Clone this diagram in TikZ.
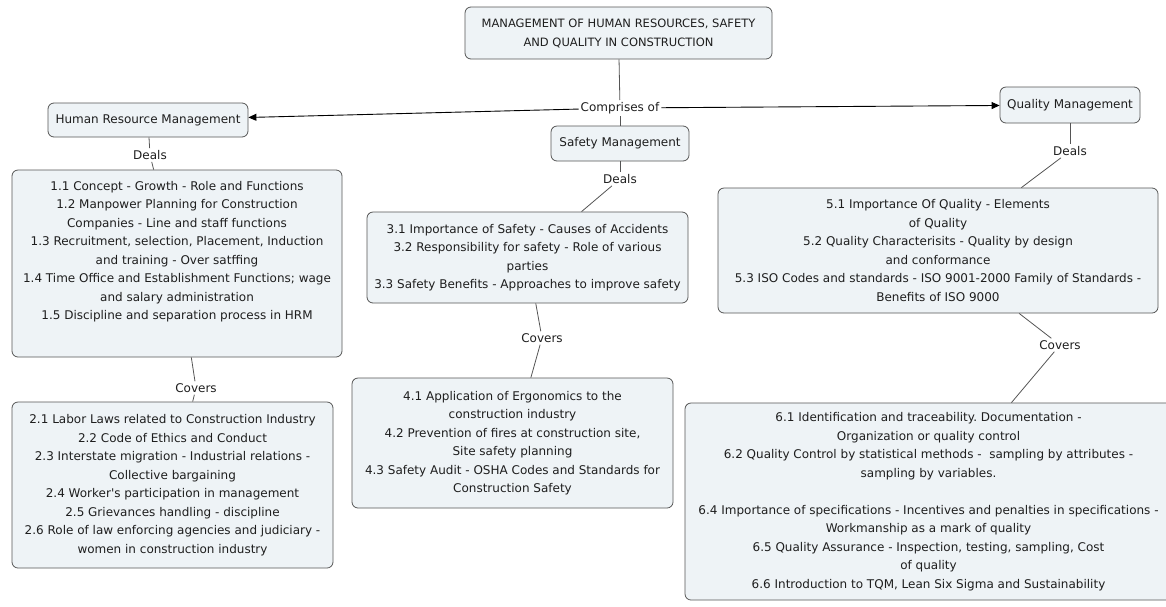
\documentclass[tikz,border=0pt]{standalone}
\usepackage{fontspec}
\setmainfont{DejaVu Sans}
\usetikzlibrary{arrows.meta}
\definecolor{boxfill}{RGB}{238,243,246}
\definecolor{boxline}{RGB}{85,85,85}
\definecolor{ink}{RGB}{30,30,30}
\tikzstyle{txt}=[font=\fontsize{12}{18.5}\selectfont\frenchspacing,text=ink,align=center]
\tikzstyle{box}=[txt,rectangle,rounded corners=6pt,draw=boxline,fill=boxfill,line width=0.8pt,inner sep=0pt]
\tikzstyle{lbl}=[txt,inner sep=2pt]
\tikzstyle{link}=[draw=boxline,line width=0.8pt]
\tikzstyle{arr}=[-{Triangle[length=8pt,width=7pt]},draw=black,line width=0.9pt]

\begin{document}
\begin{tikzpicture}[x=1pt,y=-1pt]
        \useasboundingbox (0,0) rectangle (1166,606);
        \node[box,minimum width=307pt,minimum height=52pt,font=\fontsize{11.5}{19}\selectfont] (root) at (618.5,33) {MANAGEMENT OF HUMAN RESOURCES, SAFETY\\AND QUALITY IN CONSTRUCTION};
        \node[lbl] (comp) at (620,108) {Comprises of};
        \node[box,minimum width=200pt,minimum height=34pt] (hrm) at (148,120) {Human Resource Management};
        \node[box,minimum width=138pt,minimum height=35pt] (sm) at (620,143.5) {Safety Management};
        \node[box,minimum width=140pt,minimum height=36pt] (qm) at (1070,105) {Quality Management};
        % human resources
        \node[lbl] (dealsH) at (150,155) {Deals};
        \node[box,minimum width=330pt,minimum height=187pt] (topics1) at (177,263.5) {1.1 Concept - Growth - Role and Functions\\1.2 Manpower Planning for Construction\\Companies - Line and staff functions\\1.3 Recruitment, selection, Placement, Induction\\and training - Over satffing\\1.4 Time Office and Establishment Functions; wage\\and salary administration\\1.5 Discipline and separation process in HRM\\[8pt]\mbox{}};
        \node[lbl] (coversH) at (196,388) {Covers};
        \node[box,minimum width=321pt,minimum height=166pt] (topics2) at (172.5,485) {2.1 Labor Laws related to Construction Industry\\2.2 Code of Ethics and Conduct\\2.3 Interstate migration - Industrial relations -\\Collective bargaining\\2.4 Worker\textquotesingle s participation in management\\2.5 Grievances handling - discipline\\2.6 Role of law enforcing agencies and judiciary -\\women in construction industry};
        % safety
        \node[lbl] (dealsS) at (620,179) {Deals};
        \node[box,minimum width=321pt,minimum height=91pt] (topics3) at (527.5,257.5) {3.1 Importance of Safety - Causes of Accidents\\3.2 Responsibility for safety - Role of various\\parties\\3.3 Safety Benefits - Approaches to improve safety};
        \node[lbl] (coversS) at (542,338) {Covers};
        \node[box,minimum width=321pt,minimum height=130pt] (topics4) at (512.5,443) {4.1 Application of Ergonomics to the\\construction industry\\4.2 Prevention of fires at construction site,\\Site safety planning\\4.3 Safety Audit - OSHA Codes and Standards for\\Construction Safety};
        % quality
        \node[lbl] (dealsQ) at (1070,151) {Deals};
        \node[box,minimum width=440pt,minimum height=125pt] (topics5) at (938,250.5) {5.1 Importance Of Quality - Elements\\of Quality\\5.2 Quality Characterisits - Quality by design\\and conformance\\5.3 ISO Codes and standards - ISO 9001-2000 Family of Standards -\\Benefits of ISO 9000};
        \node[lbl] (coversQ) at (1060,345) {Covers};
        \node[box,minimum width=487pt,minimum height=197pt] (topics6) at (928.5,501.5) {6.1 Identification and traceability. Documentation -\\Organization or quality control\\6.2 Quality Control by statistical methods - \ sampling by attributes -\\sampling by variables.\\[18.5pt]6.4 Importance of specifications - Incentives and penalties in specifications -\\Workmanship as a mark of quality\\6.5 Quality Assurance - Inspection, testing, sampling, Cost\\of quality\\6.6 Introduction to TQM, Lean Six Sigma and Sustainability};
        \draw[link] (root) edge (comp);
        \draw[link] (comp) edge (sm);
        \draw[arr] (comp) edge (hrm);
        \draw[arr] (comp) edge (qm);
        \draw[link] (hrm) edge (dealsH);
        \draw[link] (dealsH) edge (topics1);
        \draw[link] (topics1) edge (coversH);
        \draw[link] (coversH) edge (topics2);
        \draw[link] (sm) edge (dealsS);
        \draw[link] (dealsS) edge (topics3);
        \draw[link] (topics3) edge (coversS);
        \draw[link] (coversS) edge (topics4);
        \draw[link] (qm) edge (dealsQ);
        \draw[link] (dealsQ) edge (topics5);
        \draw[link] (topics5) edge (coversQ);
        \draw[link] (coversQ) edge (topics6);
      \end{tikzpicture}
\end{document}
